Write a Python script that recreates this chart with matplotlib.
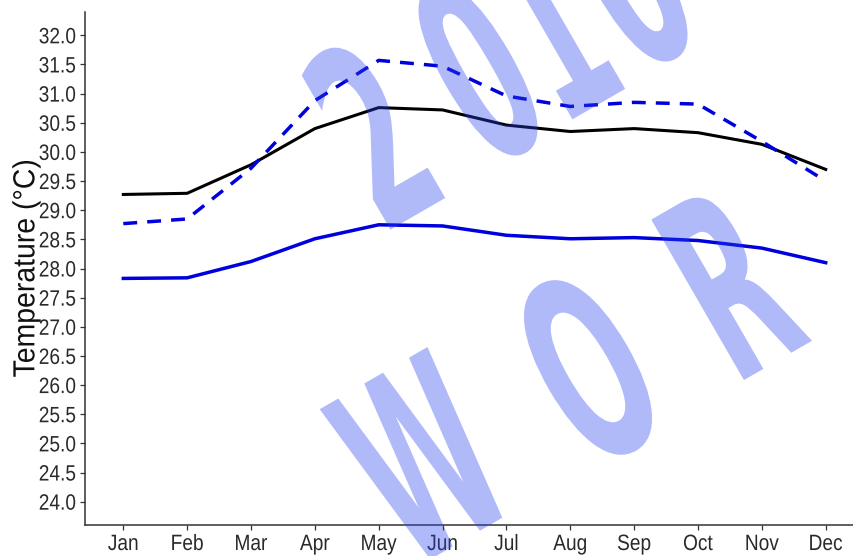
import matplotlib
matplotlib.use("Agg")
import matplotlib.pyplot as plt
from matplotlib import patheffects
from matplotlib.transforms import Affine2D
from matplotlib import font_manager

months = ["Jan", "Feb", "Mar", "Apr", "May", "Jun",
          "Jul", "Aug", "Sep", "Oct", "Nov", "Dec"]
temp_black = [29.27, 29.29, 29.78, 30.40, 30.76, 30.72,
              30.46, 30.35, 30.40, 30.33, 30.13, 29.70]
temp_blue_dashed = [28.77, 28.85, 29.72, 30.88, 31.57, 31.47,
                    30.96, 30.78, 30.85, 30.82, 30.18, 29.50]
temp_blue = [27.83, 27.84, 28.12, 28.51, 28.75, 28.73,
             28.57, 28.51, 28.53, 28.48, 28.35, 28.10]
y_ticks = [24.0 + 0.5 * i for i in range(17)]

names = {f.name for f in font_manager.fontManager.ttflist}
narrow = "Liberation Sans Narrow" in names
base_font = "Liberation Sans Narrow" if narrow else "Liberation Sans"
plt.rcParams["font.family"] = [base_font, "DejaVu Sans"]
tick_sx = 1.0 if narrow else 0.86
label_sx = 1.0 if narrow else 0.93


class Squeeze(patheffects.AbstractPathEffect):
    """Narrow glyphs along the text direction, optionally turning them."""

    def __init__(self, text, sx, angle=0.0):
        super().__init__()
        self.text = text
        self.sx = sx
        self.angle = angle

    def draw_path(self, renderer, gc, tpath, affine, rgbFace=None):
        cx, cy = self.text.get_transform().transform(self.text.get_position())
        rot = self.text.get_rotation()
        t = (Affine2D().translate(-cx, -cy).rotate_deg(-rot)
             .scale(self.sx, 1.0).rotate_deg(rot + self.angle).translate(cx, cy))
        renderer.draw_path(gc, tpath, affine + t, rgbFace)


W, H = 854, 556
fig = plt.figure(figsize=(W / 100, H / 100), dpi=100)
fig.patch.set_facecolor("white")

left, right, top, bottom = 85, 864, 12, 525
ax = fig.add_axes([left / W, 1 - bottom / H, (right - left) / W, (bottom - top) / H])

x = list(range(len(months)))
ax.plot(x, temp_black, color="black", lw=2.2, solid_joinstyle="round", zorder=3)
ax.plot(x, temp_blue_dashed, color="#0000dd", lw=2.5, ls=(0, (4.0, 2.9)), zorder=3)
ax.plot(x, temp_blue, color="#0000dd", lw=2.5, solid_joinstyle="round", zorder=3)

ax.set_xlim(-0.6, 11.6)
ax.set_ylim(23.6, 32.4)
ax.set_xticks(x)
ax.set_xticklabels(months)
ax.set_yticks(y_ticks)
ax.set_yticklabels([f"{v:.1f}" for v in y_ticks])

for side in ("top", "right"):
    ax.spines[side].set_visible(False)
for side in ("left", "bottom"):
    ax.spines[side].set_color("#333333")
    ax.spines[side].set_linewidth(1.1)
ax.tick_params(axis="both", direction="out", length=3.5, width=0.9,
               color="#333333", labelcolor="#2a2a2a", labelsize=16, pad=3)
ylab = ax.set_ylabel("Temperature (°C)", fontsize=22, color="#111111")
ax.yaxis.set_label_coords(-0.056, 0.5)

if tick_sx != 1.0:
    for lab in ax.get_xticklabels() + ax.get_yticklabels():
        lab.set_path_effects([Squeeze(lab, tick_sx)])
if label_sx != 1.0:
    ylab.set_path_effects([Squeeze(ylab, label_sx)])

# "2010 / WOR" stamp across the plot
stamp = [("2", 370, 130), ("0", 476, 66), ("1", 548, 22), ("0", 626, -28),
         ("W", 418, 455), ("O", 586, 364), ("R", 726, 279)]
for ch, px, py in stamp:
    t = fig.text(px / W, 1 - py / H, ch, ha="center", va="center_baseline",
                 fontsize=183, fontweight="bold", family="DejaVu Sans",
                 color="#2840f0", alpha=0.36, zorder=10)
    t.set_path_effects([Squeeze(t, 0.47, 30)])

fig.savefig("out.png", dpi=100, facecolor="white")
